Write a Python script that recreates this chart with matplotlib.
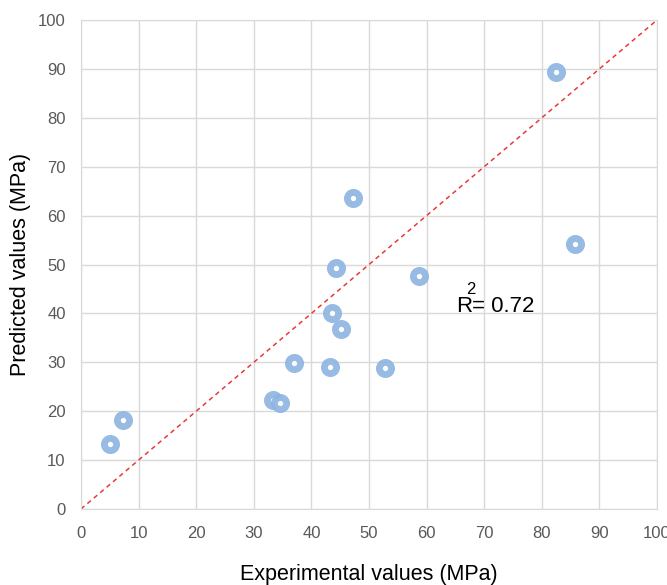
import matplotlib.pyplot as plt

plt.rcParams['font.family'] = ['Liberation Sans', 'DejaVu Sans']

# experimental vs predicted strength (MPa)
experimental = [5.0, 7.3, 33.3, 34.5, 37.0, 43.2, 43.6, 45.1, 44.3, 47.2, 52.8, 58.7, 82.5, 85.8]
predicted = [13.3, 18.2, 22.3, 21.7, 29.9, 29.0, 40.1, 36.8, 49.3, 63.6, 28.8, 47.6, 89.4, 54.2]
ticks = list(range(0, 101, 10))
r2_text = "= 0.72"

fig = plt.figure(figsize=(6.67, 5.85), dpi=100)
ax = fig.add_axes([0.1214, 0.1299, 0.8636, 0.8359])

ax.plot([0, 100], [0, 100], color='#E8393A', linestyle=(0, (3, 2.5)), linewidth=1.1, zorder=2)
ax.plot(experimental, predicted, linestyle='none', marker='o', markersize=8.8,
        markerfacecolor='white', markeredgecolor='#8DB4E2', markeredgewidth=4.9,
        alpha=0.9, zorder=3)

ax.set_xlim(0, 100)
ax.set_ylim(0, 100)
ax.set_xticks(ticks)
ax.set_yticks(ticks)
ax.grid(True, color='#D9D9D9', linewidth=1)
ax.set_axisbelow(True)
for s in ax.spines.values():
    s.set_color('#D9D9D9')
ax.tick_params(length=0, labelsize=12, labelcolor='#595959')
ax.tick_params(axis='x', pad=12)
ax.tick_params(axis='y', pad=11)

ax.set_xlabel('Experimental values (MPa)', fontsize=15.5, labelpad=17)
ax.set_ylabel('Predicted values (MPa)', fontsize=15.5, labelpad=5)

ax.text(65.1, 40.3, 'R', fontsize=16, ha='left', va='baseline')
ax.text(66.9, 43.9, '2', fontsize=12, ha='left', va='baseline')
ax.text(67.9, 40.3, r2_text, fontsize=16, ha='left', va='baseline')

fig.savefig('out.png', dpi=100)
